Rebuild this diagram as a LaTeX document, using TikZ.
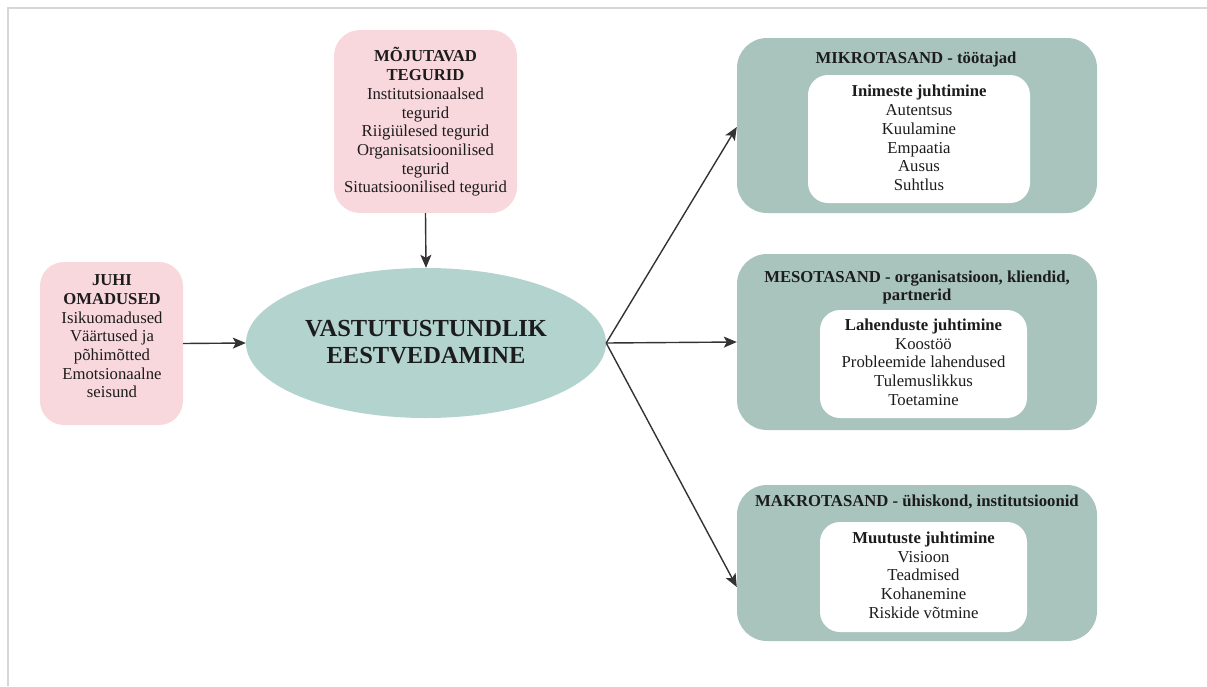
\documentclass[tikz,border=0pt]{standalone}
\usepackage{fontspec}
\setmainfont{Liberation Serif}
\usetikzlibrary{arrows.meta,shapes.geometric}
\definecolor{pinkfill}{HTML}{F9D8DD}
\definecolor{ellfill}{HTML}{B3D3CE}
\definecolor{greenfill}{HTML}{A8C4BD}
\definecolor{framec}{HTML}{D6D6D6}
\definecolor{arrowc}{HTML}{333333}
\definecolor{inkc}{HTML}{1C1C1C}
\begin{document}
\begin{tikzpicture}[x=1pt,y=-1pt,
  txt/.style={font=\fontsize{16.7}{18.7}\selectfont, align=center, text=inkc, inner sep=0pt},
  pinkbox/.style={fill=pinkfill, rounded corners=26pt, inner sep=0pt},
  levelbox/.style={fill=greenfill, rounded corners=30pt, inner sep=0pt, minimum width=360pt},
  innerbox/.style={fill=white, rounded corners=20pt, inner sep=0pt},
  link/.style={draw=arrowc, line width=1.4pt, -{Stealth[length=13pt,width=11pt,inset=3pt]}}
]
\useasboundingbox (0,0) rectangle (1207,686);
% page frame
\draw[framec, line width=1.5pt] (8,686) -- (8,8) -- (1207,8);

% influencing factors
\node[pinkbox, minimum width=183pt, minimum height=183pt] (mojutavad) at (425.5,121.5) {};
\node[txt] (mojutavadtxt) at (425.5,122) {\textbf{MÕJUTAVAD}\\\textbf{TEGURID}\\Institutsionaalsed\\tegurid\\Riigiülesed tegurid\\Organisatsioonilised\\tegurid\\Situatsioonilised tegurid};

% leader traits
\node[pinkbox, rounded corners=24pt, minimum width=143pt, minimum height=163pt] (juhi) at (111.5,343.5) {};
\node[txt] (juhitxt) at (112,336.5) {\textbf{JUHI}\\\textbf{OMADUSED}\\Isikuomadused\\Väärtused ja\\põhimõtted\\Emotsionaalne\\seisund};

% central concept
\node[ellipse, fill=ellfill, minimum width=360pt, minimum height=150pt, inner sep=0pt] (core) at (426,343) {};
\node[txt, font=\fontsize{24.5}{27}\selectfont\bfseries] (coretxt) at (426,342.5) {VASTUTUSTUNDLIK\\EESTVEDAMINE};

% micro level
\node[levelbox, minimum height=175pt] (mikro) at (917,125.5) {};
\node[txt] (mikrotitle) at (916,59) {\textbf{MIKROTASAND - töötajad}};
\node[innerbox, minimum width=222pt, minimum height=128pt] (mikroin) at (919,139) {};
\node[txt] (mikrotxt) at (919,138) {\textbf{Inimeste juhtimine}\\Autentsus\\Kuulamine\\Empaatia\\Ausus\\Suhtlus};

% meso level
\node[levelbox, minimum height=176pt] (meso) at (917,342) {};
\node[txt] (mesotitle) at (917,287.5) {\textbf{MESOTASAND - organisatsioon, kliendid,}\\\textbf{partnerid}};
\node[innerbox, minimum width=207pt, minimum height=108pt] (mesoin) at (923.5,364) {};
\node[txt] (mesotxt) at (923.5,362) {\textbf{Lahenduste juhtimine}\\Koostöö\\Probleemide lahendused\\Tulemuslikkus\\Toetamine};

% macro level
\node[levelbox, minimum height=156pt] (makro) at (917,563) {};
\node[txt] (makrotitle) at (917,502) {\textbf{MAKROTASAND - ühiskond, institutsioonid}};
\node[innerbox, minimum width=207pt, minimum height=110pt] (makroin) at (923.5,577) {};
\node[txt] (makrotxt) at (923.5,575) {\textbf{Muutuste juhtimine}\\Visioon\\Teadmised\\Kohanemine\\Riskide võtmine};

% connectors
\draw[link] (mojutavad.south) -- (core.north);
\draw[link] (juhi.east) -- (core.west);
\draw[link] (core.east) -- ([yshift=-1.5pt]mikro.west);
\draw[link] (core.east) -- (meso.west);
\draw[link] (core.east) -- ([yshift=-24pt]makro.west);
\end{tikzpicture}
\end{document}
